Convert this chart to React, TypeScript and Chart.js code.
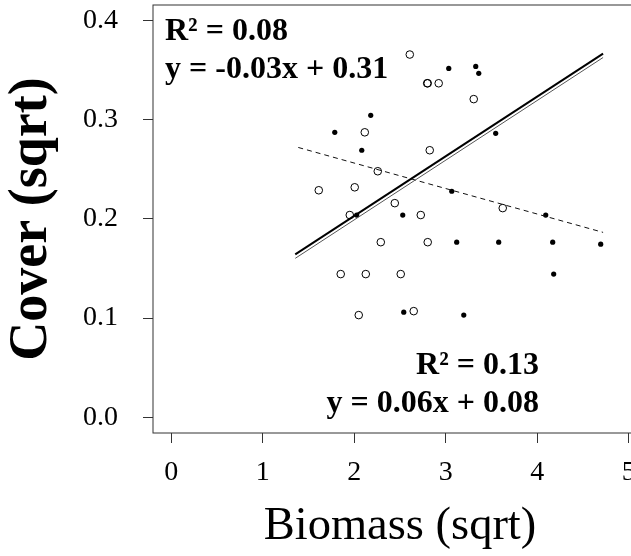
import React, { useEffect, useRef } from "react";
import { Chart, registerables } from "chart.js";

Chart.register(...registerables);

// Open circles (group 1)
const openX = [2.607, 2.797, 2.803, 2.923, 3.306, 2.115, 2.825, 2.257, 2.005, 1.612, 2.443, 1.951, 2.727, 3.623, 2.29, 2.803, 1.852, 2.126, 2.508, 2.049, 2.65];
const openY = [0.366, 0.337, 0.337, 0.337, 0.321, 0.2875, 0.2694, 0.2482, 0.232, 0.229, 0.216, 0.204, 0.204, 0.211, 0.1766, 0.1766, 0.1444, 0.1444, 0.1444, 0.103, 0.107];

// Filled dots (group 2)
const filledX = [2.18, 1.787, 2.082, 3.033, 3.328, 3.361, 3.546, 3.066, 2.027, 2.53, 4.093, 3.12, 3.579, 4.169, 4.694, 4.18, 2.541, 3.197];
const filledY = [0.3046, 0.2875, 0.2694, 0.352, 0.354, 0.347, 0.2865, 0.228, 0.204, 0.204, 0.204, 0.1766, 0.1766, 0.1766, 0.1746, 0.1444, 0.106, 0.103];

// Fitted lines (end points)
const solidFitX = [1.355, 4.72];
const solidFitY = [0.1643, 0.367];
const thinFitY = [0.1603, 0.363];
const dashedFitX = [1.388, 4.72];
const dashedFitY = [0.2722, 0.1865];

const xTicks = [0, 1, 2, 3, 4, 5];
const yTicks = [0, 0.1, 0.2, 0.3, 0.4];

const xTitle = "Biomass (sqrt)";
const yTitle = "Cover (sqrt)";
const annotations = ["R\u00b2 = 0.08", "y = -0.03x + 0.31", "R\u00b2 = 0.13", "y = 0.06x + 0.08"];

const SERIF = '"Liberation Serif", "Times New Roman", Times, serif';

const framePlugin = {
  id: "frameAndNotes",
  afterDraw(chart: any) {
    const { ctx, chartArea: a } = chart;
    ctx.save();
    ctx.strokeStyle = "#333";
    ctx.lineWidth = 1;
    ctx.strokeRect(a.left, a.top, a.right - a.left, a.bottom - a.top);
    ctx.fillStyle = "#000";
    ctx.font = `bold 32px ${SERIF}`;
    ctx.textBaseline = "alphabetic";
    ctx.textAlign = "left";
    ctx.fillText(annotations[0], a.left + 12, a.top + 35);
    ctx.fillText(annotations[1], a.left + 12, a.top + 73);
    ctx.textAlign = "right";
    ctx.fillText(annotations[2], a.right - 108, a.bottom - 59);
    ctx.fillText(annotations[3], a.right - 108, a.bottom - 21);
    ctx.restore();
  },
};

export default function App() {
  const ref = useRef<HTMLCanvasElement | null>(null);

  useEffect(() => {
    if (!ref.current) return;
    const pts = (xs: number[], ys: number[]) => xs.map((x, i) => ({ x, y: ys[i] }));
    const chart = new Chart(ref.current, {
      type: "scatter",
      data: {
        datasets: [
          {
            type: "line",
            data: pts(solidFitX, solidFitY),
            borderColor: "#000",
            borderWidth: 2,
            pointRadius: 0,
            showLine: true,
            fill: false,
          } as any,
          {
            type: "line",
            data: pts(solidFitX, thinFitY),
            borderColor: "#555",
            borderWidth: 1,
            pointRadius: 0,
            showLine: true,
            fill: false,
          } as any,
          {
            type: "line",
            data: pts(dashedFitX, dashedFitY),
            borderColor: "#111",
            borderWidth: 1,
            borderDash: [5, 4],
            pointRadius: 0,
            showLine: true,
            fill: false,
          } as any,
          {
            data: pts(filledX, filledY),
            pointStyle: "circle",
            pointRadius: 2.6,
            backgroundColor: "#000",
            borderColor: "#000",
            borderWidth: 0,
          },
          {
            data: pts(openX, openY),
            pointStyle: "circle",
            pointRadius: 3.8,
            backgroundColor: "rgba(255,255,255,0)",
            borderColor: "#000",
            borderWidth: 1,
          },
        ],
      },
      options: {
        animation: false,
        responsive: false,
        devicePixelRatio: 1,
        layout: { padding: { left: 0, top: 4, right: 13, bottom: 0 } },
        plugins: { legend: { display: false }, tooltip: { enabled: false } },
        scales: {
          x: {
            type: "linear",
            min: -0.2,
            max: 5.2,
            afterBuildTicks: (s: any) => {
              s.ticks = xTicks.map((v) => ({ value: v }));
            },
            afterFit: (s: any) => {
              s.height = 123;
              s.paddingLeft = 0;
              s.paddingRight = 0;
            },
            grid: { display: true, drawOnChartArea: false, drawTicks: true, tickLength: 10, color: "#333", lineWidth: 1 },
            border: { display: false },
            ticks: {
              autoSkip: false,
              maxRotation: 0,
              padding: 13,
              color: "#000",
              font: { family: SERIF, size: 28 },
              callback: (v: any) => String(v),
            },
            title: {
              display: true,
              text: xTitle,
              color: "#000",
              font: { family: SERIF, size: 46.5 },
              padding: { top: 0, bottom: 1 },
            },
          },
          y: {
            type: "linear",
            min: -0.016,
            max: 0.416,
            afterBuildTicks: (s: any) => {
              s.ticks = yTicks.map((v) => ({ value: v }));
            },
            afterFit: (s: any) => {
              s.width = 153;
              s.paddingTop = 0;
              s.paddingBottom = 0;
            },
            grid: { display: true, drawOnChartArea: false, drawTicks: true, tickLength: 10, color: "#333", lineWidth: 1 },
            border: { display: false },
            ticks: {
              autoSkip: false,
              padding: 25,
              color: "#000",
              font: { family: SERIF, size: 28 },
              callback: (v: any) => Number(v).toFixed(1),
            },
            title: {
              display: true,
              text: yTitle,
              color: "#000",
              font: { family: SERIF, size: 54, weight: "bold" },
              padding: { top: 0, bottom: 0 },
            },
          },
        },
      },
      plugins: [framePlugin],
    });
    return () => chart.destroy();
  }, []);

  return (
    <div
      style={{
        position: "fixed",
        left: 0,
        top: 0,
        width: 631,
        height: 556,
        overflow: "hidden",
        background: "#fff",
      }}
    >
      <canvas ref={ref} width={660} height={556} style={{ display: "block", width: 660, height: 556 }} />
    </div>
  );
}
